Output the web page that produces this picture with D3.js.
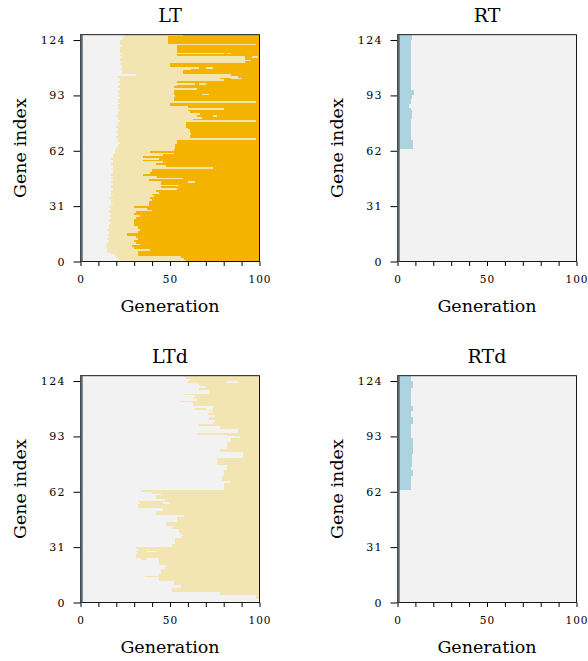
<!DOCTYPE html>
<meta charset="utf-8">
<style>
    body { margin: 0; background: #fff; }
    svg text { font-family: "DejaVu Serif", serif; fill: #000; }
</style>
<body>
<div id="chart"></div>
<script src="https://cdn.jsdelivr.net/npm/d3@7"></script>
<script>

    // generation where each gene first shows up / becomes fixed (index = gene, 0 is the bottom row)
    var ltAppear = [
        22, 21, 20, 19, 17, 15, 15, 15, 14, 15,
        15, 16, 15, 16, 15, 16, 16, 15, 16, 16,
        16, 17, 16, 16, 17, 16, 17, 16, 16, 17,
        16, 17, 18, 17, 17, 16, 17, 18, 17, 17,
        18, 17, 17, 18, 17, 18, 17, 18, 17, 18,
        18, 17, 18, 18, 17, 18, 18, 17, 18, 18,
        19, 19, 19, 20, 21, 21, 22, 21, 21, 20,
        21, 21, 20, 21, 21, 20, 21, 21, 22, 21,
        21, 20, 21, 21, 22, 21, 21, 21, 22, 21,
        21, 22, 21, 22, 21, 21, 22, 21, 21, 22,
        21, 22, 22, 21, 31, 23, 23, 22, 23, 23,
        22, 23, 22, 22, 23, 22, 23, 22, 22, 22,
        23, 22, 22, 22, 23, 24, 25
    ];
    var ltFix = [
        59, 58, 56, 32, 32, 32, 39, 30, 29, 33,
        31, 30, 32, 31, 26, 26, 32, 33, 32, 32,
        30, 30, 30, 30, 31, 33, 30, 31, 40, 37,
        30, 38, 38, 38, 40, 39, 41, 40, 44, 42,
        54, 45, 55, 45, 45, 38, 57, 43, 35, 39,
        40, 40, 74, 48, 42, 46, 35, 44, 35, 46,
        52, 39, 52, 53, 53, 53, 54, 54, 98, 61,
        61, 62, 61, 61, 60, 59, 59, 59, 98, 63,
        68, 65, 67, 61, 60, 80, 60, 50, 50, 98,
        52, 52, 53, 52, 52, 52, 65, 52, 54, 64,
        54, 80, 78, 88, 84, 57, 57, 62, 66, 50,
        50, 92, 95, 92, 92, 54, 80, 54, 54, 54,
        54, 98, 49, 49, 49, 49, 57
    ];
    // short spells back in the light state after fixation: [gene, from, to]
    var ltSpecks = [[114, 96, 99], [111, 70, 76], [108, 70, 74], [116, 82, 84],
        [99, 66, 70], [93, 68, 72], [81, 74, 76], [102, 84, 90], [44, 60, 64]];

    var ltdAppear = [
        100, 100, 98, 98, 78, 78, 51, 51, 56, 56,
        52, 52, 44, 44, 36, 44, 45, 45, 45, 47,
        48, 44, 44, 44, 34, 31, 31, 32, 31, 32,
        31, 51, 51, 53, 53, 53, 56, 57, 56, 55,
        55, 51, 52, 48, 48, 54, 54, 54, 58, 42,
        42, 46, 46, 32, 32, 33, 32, 47, 42, 42,
        45, 40, 34, 80, 80, 80, 80, 84, 79, 79,
        79, 80, 80, 80, 82, 82, 82, 76, 77, 76,
        76, 91, 91, 91, 78, 78, 82, 82, 82, 82,
        84, 84, 89, 82, 65, 88, 88, 78, 78, 66,
        74, 75, 71, 72, 75, 71, 74, 71, 64, 74,
        63, 63, 56, 65, 63, 64, 58, 72, 72, 66,
        70, 67, 66, 60, 61, 59, 58
    ];
    var ltdGaps = [[123, 82, 88], [28, 37, 42], [24, 37, 44], [55, 46, 50], [108, 70, 74]];

    // RT / RTd: generation where the early genes vanish, for genes 31..126
    var lostFirstGene = 31;
    var rtLost = [
        0.8, 0.8, 0.8, 0.8, 0.8, 0.8, 0.8, 0.8, 0.8, 0.8,
        0.8, 0.8, 0.8, 0.8, 0.8, 0.8, 0.8, 0.8, 0.8, 0.8,
        0.8, 0.8, 0.8, 0.8, 0.8, 0.8, 0.8, 0.8, 0.8, 0.8,
        0.8, 0.8,
        8.6, 8.6, 8.6, 8.6, 8.6,
        7.3, 7.3, 7.3, 7.3, 7.3, 7.3, 7.3, 7.3, 7.3, 7.3, 7.3, 7.3,
        8.2, 8.2, 8.2, 8.2, 8.2,
        7.3, 6.3, 6.3, 7.3, 7.3, 7.3, 8.2, 8.2, 9.1, 9.1, 9.1,
        7.3, 7.3, 7.3, 7.3, 7.3, 7.3, 7.3, 7.3, 7.3, 7.3,
        7.3, 7.3, 7.3, 7.3, 7.3, 7.3, 7.3, 7.3, 7.3, 7.3,
        7.3, 7.3, 7.3, 7.3, 7.3, 7.3, 7.3, 7.3,
        8.2, 8.2, 8.2
    ];
    var rtdLost = [
        0.8, 0.8, 0.8, 0.8, 0.8, 0.8, 0.8, 0.8, 0.8, 0.8,
        0.8, 0.8, 0.8, 0.8, 0.8, 0.8, 0.8, 0.8, 0.8, 0.8,
        0.8, 0.8, 0.8, 0.8, 0.8, 0.8, 0.8, 0.8, 0.8, 0.8,
        0.8, 0.8,
        7.7, 7.7, 7.7, 7.7, 7.7, 7.7, 7.7, 7.7,
        8.6, 8.6, 8.6, 7.3, 7.3,
        8.2, 8.2, 8.2, 8.2, 8.2, 8.2, 8.2,
        8.6, 8.6, 8.6, 8.6, 8.6, 8.6, 8.6, 8.6, 8.6,
        7.7, 7.7, 7.7, 7.7, 7.7, 7.7, 7.7, 7.7,
        8.6, 8.6, 8.6, 8.6, 7.7, 7.7, 7.7, 8.6, 8.6, 8.6,
        7.7, 7.7, 7.7, 7.7, 7.7, 7.7, 7.7, 7.7, 7.7, 7.7,
        8.6, 8.6, 8.6, 8.6, 7.3, 7.3, 7.3
    ];

    var geneCount = 127;
    var yTicks = [0, 31, 62, 93, 124];
    var xTicks = [0, 10, 20, 30, 40, 50, 60, 70, 80, 90, 100];
    var xLabelled = [0, 50, 100];

    var gray = "#f2f2f2", light = "#f3e5b1", orange = "#f4b300", blue = "#aed3e0";

    function ltRows() {
        var rows = [];
        ltAppear.forEach(function (a, i) {
            rows.push({gene: i, from: a, to: ltFix[i], color: light});
            rows.push({gene: i, from: ltFix[i], to: 100, color: orange});
        });
        ltSpecks.forEach(function (s) { rows.push({gene: s[0], from: s[1], to: s[2], color: light}); });
        return rows;
    }
    function ltdRows() {
        var rows = ltdAppear.map(function (a, i) { return {gene: i, from: a, to: 100, color: light}; });
        ltdGaps.forEach(function (s) { rows.push({gene: s[0], from: s[1], to: s[2], color: gray}); });
        return rows;
    }
    function lostRows(vals) {
        return vals.map(function (v, i) { return {gene: lostFirstGene + i, from: 0, to: v, color: blue}; });
    }

    var plotW = 179, plotH = 226.8;
    var panels = [
        {title: "LT", left: 80.5, top: 34.7, rows: ltRows()},
        {title: "RT", left: 397.5, top: 34.7, rows: lostRows(rtLost)},
        {title: "LTd", left: 80.5, top: 375.7, rows: ltdRows()},
        {title: "RTd", left: 397.5, top: 375.7, rows: lostRows(rtdLost)}
    ];

    var svg = d3.select("#chart").append("svg")
        .attr("width", 588)
        .attr("height", 661);

    var x = d3.scaleLinear().domain([0, 100]).range([0, plotW]);
    var y = d3.scaleLinear().domain([0, geneCount]).range([plotH, 0]);

    panels.forEach(function (p) {
        var g = svg.append("g")
            .attr("transform", "translate(" + p.left + "," + p.top + ")");

        g.append("rect")
            .attr("width", plotW)
            .attr("height", plotH)
            .attr("fill", gray);

        g.selectAll("rect.cell")
            .data(p.rows)
            .join("rect")
            .attr("class", "cell")
            .attr("x", function (d) { return x(d.from); })
            .attr("width", function (d) { return Math.max(0, x(d.to) - x(d.from)); })
            .attr("y", function (d) { return y(d.gene + 1); })
            .attr("height", function (d) { return y(d.gene) - y(d.gene + 1); })
            .attr("fill", function (d) { return d.color; })
            .attr("shape-rendering", "crispEdges");

        // axes
        var ya = g.append("g")
            .call(d3.axisLeft(y).tickValues(yTicks).tickSize(7).tickSizeOuter(0).tickPadding(7.5));
        ya.select(".domain").remove();
        ya.selectAll("text")
            .style("font-size", "11px")
            .style("letter-spacing", "1.4px");

        var xa = g.append("g")
            .attr("transform", "translate(0," + plotH + ")")
            .call(d3.axisBottom(x).tickValues(xTicks).tickSize(4.5).tickSizeOuter(0).tickPadding(9.5)
                .tickFormat(function (d) { return xLabelled.indexOf(d) >= 0 ? d : ""; }));
        xa.select(".domain").remove();
        xa.selectAll("text")
            .style("font-size", "10.5px")
            .style("letter-spacing", "1px");

        // frame
        g.append("rect")
            .attr("width", plotW)
            .attr("height", plotH)
            .attr("fill", "none")
            .attr("stroke", "#000")
            .attr("stroke-width", 0.9);
        g.append("line")
            .attr("x1", 1).attr("x2", 1)
            .attr("y1", 0).attr("y2", plotH)
            .attr("stroke", "#5b636b")
            .attr("stroke-width", 2.4);

        g.append("text")
            .attr("x", plotW / 2)
            .attr("y", -13.2)
            .attr("text-anchor", "middle")
            .style("font-size", "19px")
            .text(p.title);

        g.append("text")
            .attr("x", plotW / 2)
            .attr("y", plotH + 50.5)
            .attr("text-anchor", "middle")
            .style("font-size", "17.5px")
            .text("Generation");

        g.append("text")
            .attr("transform", "translate(-54.5," + (plotH / 2) + ") rotate(-90)")
            .attr("text-anchor", "middle")
            .style("font-size", "17.5px")
            .text("Gene index");
    });

</script>
</body>
